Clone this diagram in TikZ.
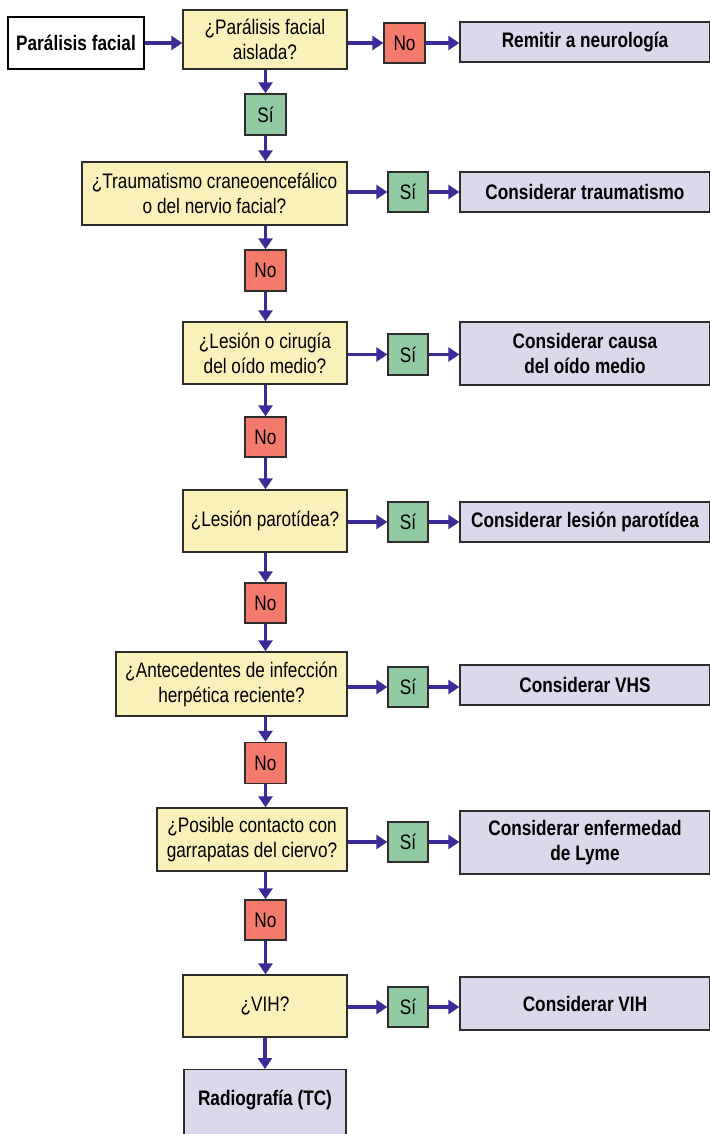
\documentclass[tikz,border=0pt]{standalone}
\usepackage{fontspec}
\setmainfont{Liberation Sans}[FakeStretch=0.82]
\usetikzlibrary{arrows.meta}
\definecolor{qyel}{RGB}{250,240,186}
\definecolor{nored}{RGB}{244,122,108}
\definecolor{sigreen}{RGB}{143,202,163}
\definecolor{lav}{RGB}{219,216,236}
\definecolor{bord}{RGB}{45,45,45}
\definecolor{arrc}{RGB}{60,42,150}
\begin{document}
\begin{tikzpicture}[x=1pt,y=-1pt,
  base/.style={draw=bord, line width=1.4pt, inner sep=0pt, align=center,
    font=\fontsize{21}{25}\selectfont},
  qbox/.style={base, fill=qyel},
  sibox/.style={base, fill=sigreen, minimum width=40pt, minimum height=40pt},
  nobox/.style={base, fill=nored, minimum width=41pt, minimum height=40pt},
  resbox/.style={base, fill=lav, font=\bfseries\fontsize{21}{25}\selectfont},
  startbox/.style={base, draw=black, line width=2.2pt, fill=white,
    font=\bfseries\fontsize{21}{25}\selectfont},
  arr/.style={draw=arrc, line width=3.6pt, -{Triangle[length=11pt,width=14pt]}}
]
\useasboundingbox (0,0) rectangle (709,1134);

% row 1
\node[startbox, minimum width=136pt, minimum height=52pt] (start) at (76,43) {Parálisis facial};
\node[qbox, minimum width=164pt, minimum height=59pt] (q1) at (265,39.5) {¿Parálisis facial\\aislada?};
\node[nobox] (no1) at (404.5,43) {No};
\node[resbox, minimum width=250pt, minimum height=40pt] (r1) at (585,42) {Remitir a neurología};
\node[sibox, minimum width=41pt, minimum height=41pt] (si1) at (265.5,114.5) {Sí};

% row 2
\node[qbox, minimum width=265pt, minimum height=63pt] (q2) at (214.5,193.5) {¿Traumatismo craneoencefálico\\o del nervio facial?};
\node[sibox] (si2) at (408,192) {Sí};
\node[resbox, minimum width=250pt, minimum height=40pt] (r2) at (585,192) {Considerar traumatismo};
\node[nobox, minimum height=41pt] (no2) at (265.5,270.5) {No};

% row 3
\node[qbox, minimum width=164pt, minimum height=62pt] (q3) at (265,353) {¿Lesión o cirugía\\del oído medio?};
\node[sibox, minimum height=41pt] (si3) at (408,354.5) {Sí};
\node[resbox, minimum width=250pt, minimum height=63pt] (r3) at (585,353.5) {Considerar causa\\del oído medio};
\node[nobox] (no3) at (265.5,437) {No};

% row 4
\node[qbox, minimum width=164pt, minimum height=62pt] (q4) at (265,521) {¿Lesión parotídea?};
\node[sibox] (si4) at (408,522) {Sí};
\node[resbox, minimum width=250pt, minimum height=40pt] (r4) at (585,522) {Considerar lesión parotídea};
\node[nobox] (no4) at (265.5,603) {No};

% row 5
\node[qbox, minimum width=231pt, minimum height=64pt] (q5) at (231.5,684) {¿Antecedentes de infección\\herpética reciente?};
\node[sibox] (si5) at (408,687) {Sí};
\node[resbox, minimum width=250pt, minimum height=40pt] (r5) at (585,685) {Considerar VHS};
\node[nobox, minimum height=41pt] (no5) at (265.5,763) {No};

% row 6
\node[qbox, minimum width=190pt, minimum height=63pt] (q6) at (252,839.5) {¿Posible contacto con\\garrapatas del ciervo?};
\node[sibox] (si6) at (408,842) {Sí};
\node[resbox, minimum width=250pt, minimum height=63pt] (r6) at (585,842.5) {Considerar enfermedad\\de Lyme};
\node[nobox] (no6) at (265.5,920) {No};

% row 7
\node[qbox, minimum width=164pt, minimum height=62pt] (q7) at (265,1006) {¿VIH?};
\node[sibox] (si7) at (408,1007) {Sí};
\node[resbox, minimum width=250pt, minimum height=53pt] (r7) at (585,1003.5) {Considerar VIH};
\node[resbox, minimum width=162pt, text height=35.5pt, text depth=45pt, anchor=north] (rad) at (265,1069) {Radiografía (TC)};

% connectors
\draw[arr] (start.east) -- (start.east -| q1.west);
\draw[arr] (q1.east |- no1.west) -- (no1.west);
\draw[arr] (no1.east) -- (no1.east -| r1.west);
\draw[arr] (si1.north |- q1.south) -- (si1.north);
\draw[arr] (si1.south) -- (si1.south |- q2.north);

\draw[arr] (q2.east |- si2.west) -- (si2.west);
\draw[arr] (si2.east) -- (si2.east -| r2.west);
\draw[arr] (no2.north |- q2.south) -- (no2.north);
\draw[arr] (no2.south) -- (no2.south |- q3.north);

\draw[arr] (q3.east |- si3.west) -- (si3.west);
\draw[arr] (si3.east) -- (si3.east -| r3.west);
\draw[arr] (no3.north |- q3.south) -- (no3.north);
\draw[arr] (no3.south) -- (no3.south |- q4.north);

\draw[arr] (q4.east |- si4.west) -- (si4.west);
\draw[arr] (si4.east) -- (si4.east -| r4.west);
\draw[arr] (no4.north |- q4.south) -- (no4.north);
\draw[arr] (no4.south) -- (no4.south |- q5.north);

\draw[arr] (q5.east |- si5.west) -- (si5.west);
\draw[arr] (si5.east) -- (si5.east -| r5.west);
\draw[arr] (no5.north |- q5.south) -- (no5.north);
\draw[arr] (no5.south) -- (no5.south |- q6.north);

\draw[arr] (q6.east |- si6.west) -- (si6.west);
\draw[arr] (si6.east) -- (si6.east -| r6.west);
\draw[arr] (no6.north |- q6.south) -- (no6.north);
\draw[arr] (no6.south) -- (no6.south |- q7.north);

\draw[arr] (q7.east |- si7.west) -- (si7.west);
\draw[arr] (si7.east) -- (si7.east -| r7.west);
\draw[arr] (rad.north |- q7.south) -- (rad.north);
\end{tikzpicture}
\end{document}
